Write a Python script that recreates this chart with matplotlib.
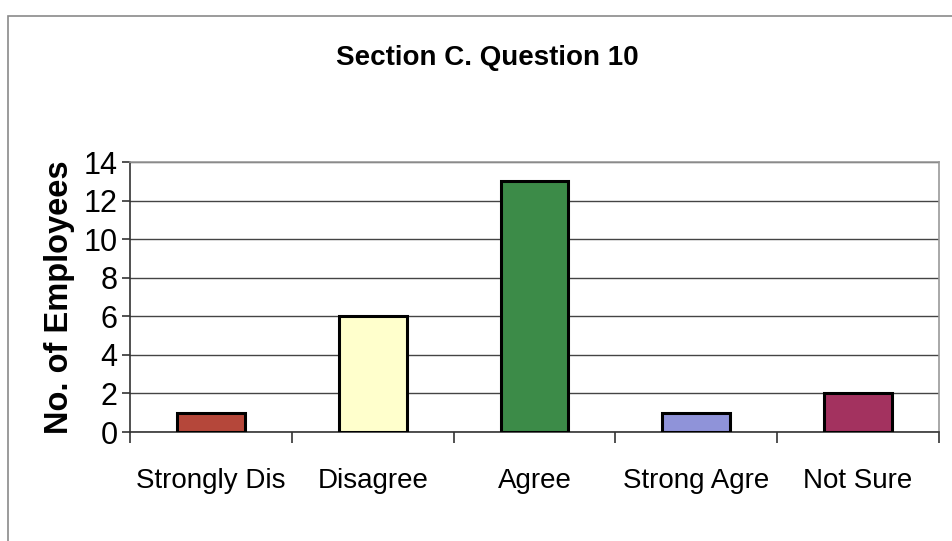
import numpy as np
import matplotlib.pyplot as plt
from matplotlib.patches import Rectangle
from matplotlib import font_manager

# Survey answers for Section C, question 10
categories = ["Strongly Dis", "Disagree", "Agree", "Strong Agre", "Not Sure"]
counts = [1, 6, 13, 1, 2]
bar_colors = ["#B5473A", "#FFFFCC", "#3C8B48", "#8F93D9", "#A3325F"]
y_ticks = [0, 2, 4, 6, 8, 10, 12, 14]

# pick a narrow Arial-like font if one is installed
names = {f.name for f in font_manager.fontManager.ttflist}
narrow = "Liberation Sans Narrow" if "Liberation Sans Narrow" in names else "Liberation Sans"
plt.rcParams["font.family"] = ["Liberation Sans", "DejaVu Sans"]

fig = plt.figure(figsize=(9.52, 5.41), dpi=100)
ax = fig.add_axes([130 / 952, 1 - 432 / 541, 809 / 952, 270 / 541])

# outer chart frame
fig.patches.append(Rectangle((8 / 952, -0.1), 1.2, 1.1 - 16 / 541, transform=fig.transFigure,
                             fill=False, edgecolor="#8a8a8a", linewidth=1.2))

x = np.arange(len(categories))
ax.bar(x, counts, width=0.42, color=bar_colors, edgecolor="black", linewidth=2.2, zorder=3)

ax.set_xlim(-0.5, len(categories) - 0.5)
ax.set_ylim(0, 14)
ax.set_yticks(y_ticks)
ax.set_yticklabels([str(v) for v in y_ticks], fontsize=22)
ax.yaxis.grid(True, color="#444444", linewidth=1.0, zorder=0)
ax.set_axisbelow(True)

# category labels centred, tick marks between categories
ax.set_xticks(x)
ax.set_xticklabels(categories, family=narrow, fontsize=20)
ax.tick_params(axis="x", length=0, pad=26)
ax.set_xticks(np.arange(-0.5, len(categories)), minor=True)
ax.tick_params(axis="x", which="minor", length=8, width=1.2, color="#333333")
ax.tick_params(axis="y", length=6, width=1.2, color="#333333", pad=3)

ax.spines["left"].set_color("#333333")
ax.spines["bottom"].set_color("#333333")
ax.spines["top"].set_color("#999999")
ax.spines["right"].set_color("#999999")
for s in ax.spines.values():
    s.set_linewidth(1.2)

ax.set_ylabel("No. of Employees", fontsize=23.5, fontweight="bold", labelpad=6)
fig.text(0.512, 1 - 58 / 541, "Section C. Question 10", ha="center", va="center",
         family=narrow, fontsize=20, fontweight="bold")

fig.savefig("out.png", dpi=100)
